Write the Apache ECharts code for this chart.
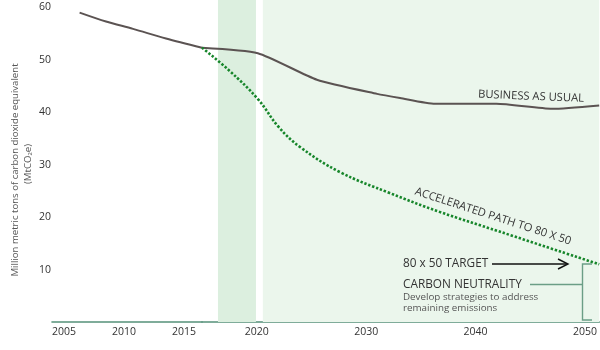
<!DOCTYPE html>
<html>
<head>
<meta charset="utf-8">
<script src="https://cdn.jsdelivr.net/npm/echarts@6/dist/echarts.min.js"></script>
<style>html,body{margin:0;padding:0;background:#fff;}#c{width:600px;height:350px;}</style>
</head>
<body>
<div id="c"></div>
<script>
// Historic part (left axis segment, 2005-2015 labels)
const histYears = [2006.3, 2008.5, 2010.75, 2013.5, 2016.5];
const histBAU = [59.0, 57.3, 55.9, 54.05, 52.3];
// Projection part (right axis segment, 2020-2050 labels)
const projYears = [2015, 2020.1, 2025.5, 2031, 2033.1, 2036.3, 2041.9, 2047, 2051.3];
const projBAU = [52.3, 51.25, 46.2, 43.5, 42.7, 41.6, 41.6, 40.65, 41.3];
const pathYears = [2015, 2017.46, 2020.11, 2022.0, 2023.94, 2027.59, 2032.15, 2036.71, 2042.18, 2051.3];
const pathValues = [52.3, 48.0, 42.5, 37.2, 33.4, 28.6, 24.6, 21.0, 17.25, 11.0];
// Shaded periods
const band1 = [2016.46, 2019.93];
const band2 = [2020.56, 2051.3];
// Tick labels
const histTicks = [2005, 2010, 2015];
const projTicks = [2020, 2030, 2040, 2050];
const yTicks = [10, 20, 30, 40, 50, 60];

const FONT = '"Open Sans", "Noto Sans", sans-serif';
const axisLineStyle = { color: '#56917a', width: 1.6 };
const labelStyle = { color: '#333', fontSize: 10.5, fontFamily: FONT };

const chart = echarts.init(document.getElementById('c'), null, { renderer: 'canvas' });

const pair = (xs, ys) => xs.map((x, i) => [x, ys[i]]);

chart.setOption({
  animation: false,
  backgroundColor: '#fff',
  grid: [
    { left: 52, top: 0, width: 150, bottom: 28 },
    { left: 202, top: 0, right: 0, bottom: 28 }
  ],
  xAxis: [
    { type: 'value', gridIndex: 0, min: 2004, max: 2016.5,
      axisLine: { show: true, lineStyle: axisLineStyle, onZero: false },
      axisTick: { show: false }, splitLine: { show: false },
      axisLabel: Object.assign({ customValues: histTicks, margin: 5, formatter: v => String(v) }, labelStyle) },
    { type: 'value', gridIndex: 1, min: 2015, max: 2051.3,
      axisLine: { show: true, lineStyle: axisLineStyle, onZero: false },
      axisTick: { show: false }, splitLine: { show: false },
      axisLabel: Object.assign({ customValues: projTicks, margin: 5, formatter: v => String(v) }, labelStyle) }
  ],
  yAxis: [
    { type: 'value', gridIndex: 0, min: 0, max: 61.4,
      axisLine: { show: false }, axisTick: { show: false }, splitLine: { show: false },
      axisLabel: Object.assign({ customValues: yTicks, margin: 1 }, labelStyle) },
    { type: 'value', gridIndex: 1, min: 0, max: 61.4, show: false,
      splitLine: { show: false } }
  ],
  series: [
    { type: 'line', xAxisIndex: 0, yAxisIndex: 0, data: pair(histYears, histBAU),
      symbol: 'none', smooth: 0.3, lineStyle: { color: '#5b5352', width: 2 }, z: 5 },
    { type: 'line', xAxisIndex: 1, yAxisIndex: 1, data: pair(projYears, projBAU),
      symbol: 'none', smooth: 0.2, lineStyle: { color: '#5b5352', width: 2 }, z: 5,
      markArea: {
        silent: true,
        data: [
          [{ xAxis: band1[0], itemStyle: { color: '#dcefdf' } }, { xAxis: band1[1] }],
          [{ xAxis: band2[0], itemStyle: { color: '#ebf6ec' } }, { xAxis: band2[1] }]
        ]
      } },
    { type: 'line', xAxisIndex: 1, yAxisIndex: 1, data: pair(pathYears, pathValues),
      symbol: 'none', smooth: 0.4,
      lineStyle: { color: '#17862b', width: 2.6, type: [2.4, 1.8] }, z: 6 }
  ],
  graphic: [
    { type: 'text', x: 15, y: 170, rotation: Math.PI / 2, z: 10,
      style: { text: 'Million metric tons of carbon dioxide equivalent', align: 'center', verticalAlign: 'middle',
               fill: '#555', font: '9.6px ' + FONT } },
    { type: 'text', x: 28.5, y: 164, rotation: Math.PI / 2, z: 10,
      style: { text: '(MtCO\u2082e)', align: 'center', verticalAlign: 'middle',
               fill: '#555', font: '9.6px ' + FONT } },
    { type: 'text', x: 531, y: 96.5, rotation: -0.04, z: 10,
      style: { text: 'BUSINESS AS USUAL', align: 'center', verticalAlign: 'middle',
               fill: '#333', font: '11.2px ' + FONT } },
    { type: 'text', x: 493, y: 216.5, rotation: -18 * Math.PI / 180, z: 10,
      style: { text: 'ACCELERATED PATH TO 80 X 50', align: 'center', verticalAlign: 'middle',
               fill: '#333', font: '11.2px ' + FONT } },
    { type: 'text', x: 403, y: 264, z: 10,
      style: { text: '80 x 50 TARGET', align: 'left', verticalAlign: 'middle',
               fill: '#333', font: '11.8px ' + FONT } },
    { type: 'line', z: 10, shape: { x1: 492, y1: 264, x2: 567, y2: 264 },
      style: { stroke: '#111', lineWidth: 1.4 } },
    { type: 'polyline', z: 10, shape: { points: [[558, 259], [568, 264], [558, 269]] },
      style: { stroke: '#111', lineWidth: 1.4, fill: null } },
    { type: 'text', x: 403, y: 285, z: 10,
      style: { text: 'CARBON NEUTRALITY', align: 'left', verticalAlign: 'middle',
               fill: '#333', font: '11.8px ' + FONT } },
    { type: 'text', x: 403, y: 297, z: 10,
      style: { text: 'Develop strategies to address', align: 'left', verticalAlign: 'middle',
               fill: '#555', font: '9.8px ' + FONT } },
    { type: 'text', x: 403, y: 308, z: 10,
      style: { text: 'remaining emissions', align: 'left', verticalAlign: 'middle',
               fill: '#555', font: '9.8px ' + FONT } },
    { type: 'line', z: 10, shape: { x1: 530, y1: 284.5, x2: 582.5, y2: 284.5 },
      style: { stroke: '#6b9e86', lineWidth: 1.4 } },
    { type: 'polyline', z: 10, shape: { points: [[592, 264], [582.5, 264], [582.5, 320], [592, 320]] },
      style: { stroke: '#6b9e86', lineWidth: 1.4, fill: null } }
  ]
});
</script>
</body>
</html>
